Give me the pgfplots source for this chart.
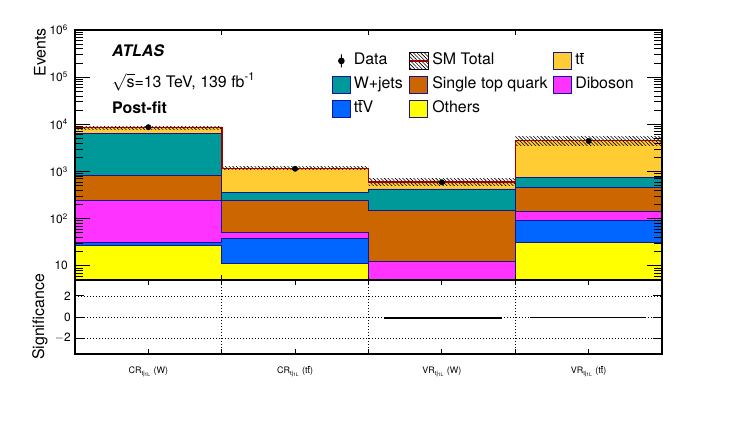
\documentclass[border=0pt]{standalone}
\usepackage{fontspec}
\setmainfont{TeX Gyre Heros}
\usepackage{pgfplots}
\usepackage{pgfplotstable}
\pgfplotsset{compat=1.18}
\usetikzlibrary{patterns,patterns.meta}

\definecolor{cTT}{RGB}{255,204,51}
\definecolor{cW}{RGB}{0,153,153}
\definecolor{cST}{RGB}{204,102,0}
\definecolor{cVV}{RGB}{255,51,255}
\definecolor{cTTV}{RGB}{0,102,255}
\definecolor{cOth}{RGB}{255,255,0}
\definecolor{cLine}{RGB}{20,20,150}
\definecolor{cTot}{RGB}{153,0,0}

% cumulative stack heights per bin (bin edges 0..4, last row repeats)
\pgfplotstableread{
x   tot   wj    st   vv    ttv  oth
0   8500  6430  845  248   31   27.6
1   1170  360   248  52    38   11
2   600   426   147  12.6  3.5  3
3   4560  752   460  140   90   31
4   4560  752   460  140   90   31
}\stack

\pgfplotstableread{
x    d     e
0.5  8700  93
1.5  1140  34
2.5  590   24
3.5  4420  66
}\data

\newcommand\tbar{t$\overline{\hbox{t}}$}
\tikzset{hatch/.style={pattern={Lines[angle=-45,distance=2.6bp,line width=0.6bp]}, pattern color=black}}
\newcommand\legbox[1]{\draw[fill=#1, draw=cLine, line width=0.8bp] (0bp,-8.5bp) rectangle (18bp,8.5bp);}

\begin{document}
\begin{tikzpicture}
\path[use as bounding box] (0bp,0bp) rectangle (747bp,430bp);

\begin{axis}[
  at={(75bp,150bp)}, anchor=south west, scale only axis,
  width=587bp, height=250bp,
  xmin=0, xmax=4, ymode=log, ymin=5, ymax=1e6,
  axis on top, clip=true,
  axis line style={line width=1.1bp},
  ytick={10,100,1000,10000,100000,1000000},
  yticklabels={10,10\textsuperscript{2},10\textsuperscript{3},10\textsuperscript{4},10\textsuperscript{5},10\textsuperscript{6}},
  minor ytick={6,7,8,9,20,30,40,50,60,70,80,90,200,300,400,500,600,700,800,900,2000,3000,4000,5000,6000,7000,8000,9000,2e4,3e4,4e4,5e4,6e4,7e4,8e4,9e4,2e5,3e5,4e5,5e5,6e5,7e5,8e5,9e5},
  major tick length=15bp, minor tick length=8bp,
  tick style={black, line width=0.8bp},
  xtick={1,2,3}, xticklabels={},
  xtick style={/pgfplots/major tick length=5bp},
  yticklabel style={font=\fontsize{12}{14}\selectfont, inner sep=0pt, xshift=-7bp},
  ylabel={Events},
  ylabel style={font=\fontsize{16}{19}\selectfont, at={(axis description cs:-0.0596,1.008)}, anchor=east, inner sep=0pt},
  legend columns=3,
  legend cell align=left,
  legend style={at={(axis description cs:0.4378,0.912)}, anchor=north west,
    draw=none, fill=none, inner sep=0pt, outer sep=0pt,
    font=\fontsize{16}{19}\selectfont,
    row sep=6bp,
    nodes={inner sep=1bp, text height=11.5bp, text depth=3.5bp},
    /tikz/every odd column/.append style={column sep=2bp},
    /tikz/every even column/.append style={column sep=5bp}},
]
% stacked histogram, drawn from the top of the stack downwards
\addplot[const plot mark left, fill=cTT, draw=cLine, line width=0.8bp, forget plot] table[x=x,y=tot]{\stack} \closedcycle;
\addplot[const plot mark left, fill=cW, draw=cLine, line width=0.8bp, forget plot] table[x=x,y=wj]{\stack} \closedcycle;
\addplot[const plot mark left, fill=cST, draw=cLine, line width=0.8bp, forget plot] table[x=x,y=st]{\stack} \closedcycle;
\addplot[const plot mark left, fill=cVV, draw=cLine, line width=0.8bp, forget plot] table[x=x,y=vv]{\stack} \closedcycle;
\addplot[const plot mark left, fill=cTTV, draw=cLine, line width=0.8bp, forget plot] table[x=x,y=ttv]{\stack} \closedcycle;
\addplot[const plot mark left, fill=cOth, draw=cLine, line width=0.8bp, forget plot] table[x=x,y=oth]{\stack} \closedcycle;
% uncertainty band (SM total +- uncertainty per bin)
\addplot[draw=none, hatch, forget plot] coordinates {(0,7900) (1,7900) (1,9100) (0,9100)} -- cycle;
\addplot[draw=none, hatch, forget plot] coordinates {(1,1090) (2,1090) (2,1250) (1,1250)} -- cycle;
\addplot[draw=none, hatch, forget plot] coordinates {(2,505) (3,505) (3,712) (2,712)} -- cycle;
\addplot[draw=none, hatch, forget plot] coordinates {(3,3560) (4,3560) (4,5560) (3,5560)} -- cycle;
% SM total line
\addplot[const plot mark left, draw=cTot, line width=1.5bp, forget plot] table[x=x,y=tot]{\stack};
% data
\addplot[only marks, mark=*, mark size=2.7bp, black, forget plot,
  error bars/.cd, y dir=both, y explicit, error bar style={line width=1bp}] table[x=x,y=d,y error=e]{\data};

\addlegendimage{legend image code/.code={\draw[black, line width=1bp, fill=black] (9bp,-6.5bp) -- (9bp,6.5bp) (9bp,0bp) circle (2.8bp);}}
\addlegendentry{Data}
\addlegendimage{legend image code/.code={\fill[hatch] (0bp,-8.5bp) rectangle (19bp,8.5bp); \draw[cTot, line width=1.5bp] (0bp,0bp) -- (19bp,0bp);}}
\addlegendentry{SM Total}
\addlegendimage{legend image code/.code={\legbox{cTT}}}
\addlegendentry{\tbar}
\addlegendimage{legend image code/.code={\legbox{cW}}}
\addlegendentry{W+jets}
\addlegendimage{legend image code/.code={\legbox{cST}}}
\addlegendentry{Single top quark}
\addlegendimage{legend image code/.code={\legbox{cVV}}}
\addlegendentry{Diboson}
\addlegendimage{legend image code/.code={\legbox{cTTV}}}
\addlegendentry{\tbar V}
\addlegendimage{legend image code/.code={\legbox{cOth}}}
\addlegendentry{Others}
\end{axis}

\node[anchor=west, inner sep=0pt, font=\fontsize{16}{19}\selectfont\bfseries\itshape] at (112bp,379bp) {ATLAS};
\node[anchor=west, inner sep=0pt, font=\fontsize{16}{19}\selectfont] at (112bp,348bp) {$\sqrt{\hbox{s}}$=13 TeV, 139 fb\textsuperscript{-1}};
\node[anchor=west, inner sep=0pt, font=\fontsize{16}{19}\selectfont\bfseries] at (112bp,322bp) {Post-fit};

\begin{axis}[
  at={(75bp,76bp)}, anchor=south west, scale only axis,
  width=587bp, height=74bp,
  xmin=0, xmax=4, ymin=-3.5, ymax=3.5,
  axis line style={line width=1.1bp},
  ytick={-2,0,2}, yticklabels={$-$2,0,2},
  major tick length=9bp,
  tick style={black, line width=0.8bp},
  xtick={1,2,3}, xticklabels={},
  xtick style={/pgfplots/major tick length=5bp},
  grid=major,
  grid style={black, line width=0.7bp, dash pattern=on 1bp off 2bp},
  yticklabel style={font=\fontsize{12}{14}\selectfont, inner sep=0pt, xshift=-4bp},
  extra x ticks={0.5,1.5,2.5,3.5},
  extra x tick labels={CR\textsubscript{tj\textsubscript{1L}} (W), CR\textsubscript{tj\textsubscript{1L}} (\tbar), VR\textsubscript{tj\textsubscript{1L}} (W), VR\textsubscript{tj\textsubscript{1L}} (\tbar)},
  extra x tick style={grid=none, major tick length=0pt, xticklabel style={font=\fontsize{9}{11}\selectfont, anchor=base, yshift=-20bp}},
  ylabel={Significance},
  ylabel style={font=\fontsize{16}{19}\selectfont, at={(axis description cs:-0.0596,0.5)}, anchor=center, inner sep=0pt},
]
\addplot[black, line width=2bp] coordinates {(2.109,-0.12) (2.907,-0.12)};
\addplot[black, line width=1.3bp] coordinates {(3.10,-0.05) (3.89,-0.05)};
\end{axis}
\end{tikzpicture}
\end{document}
